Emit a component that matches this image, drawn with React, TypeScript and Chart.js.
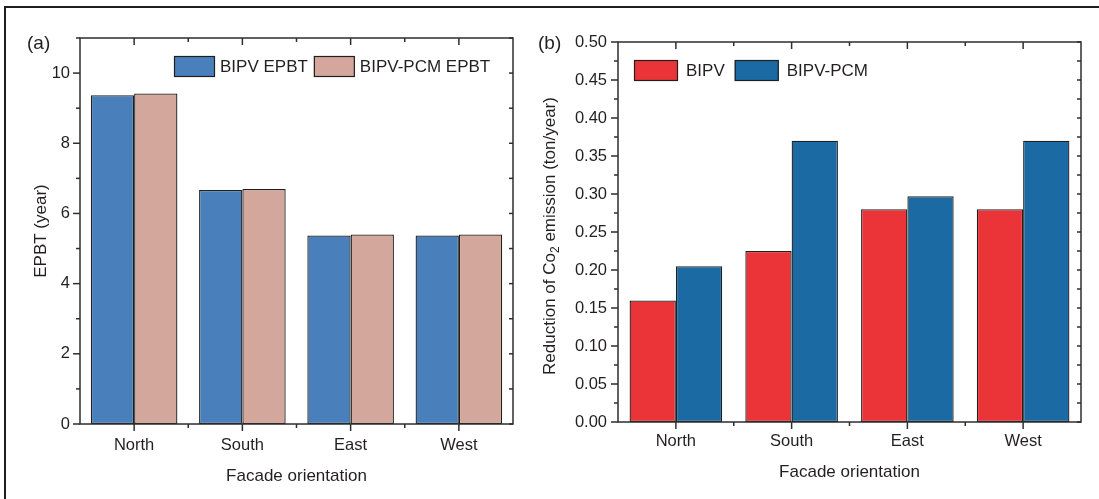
import { useEffect, useRef } from "react";
import { Chart, registerables } from "chart.js";

Chart.register(...registerables);

// Categories shared by both panels
const orientations = ["North", "South", "East", "West"];

// (a) Energy payback time, years
const epbtBipv = [9.37, 6.67, 5.37, 5.37];
const epbtBipvPcm = [9.42, 6.7, 5.4, 5.4];

// (b) Reduction of CO2 emission, ton/year
const co2Bipv = [0.16, 0.225, 0.28, 0.28];
const co2BipvPcm = [0.205, 0.37, 0.297, 0.37];

const FONT = "'Liberation Sans', Arial, Helvetica, sans-serif";
const INK = "#231f20";
const FRAME = "#2e2e2e";
const BAR_EDGE = "#1f1f1f";

type TitlePart = { t: string; sub?: boolean };

// Draws the Origin-style box frame, inner/outer ticks, legend, titles and panel tag.
const originFrame = {
  id: "originFrame",
  afterDatasetsDraw(chart: any, _args: any, opts: any) {
    const { ctx, chartArea: a, scales } = chart;
    const xs = scales.x;
    const ys = scales.y;
    const line = (x1: number, y1: number, x2: number, y2: number) => {
      ctx.beginPath();
      ctx.moveTo(x1, y1);
      ctx.lineTo(x2, y2);
      ctx.stroke();
    };
    ctx.save();
    ctx.strokeStyle = FRAME;
    ctx.lineWidth = 1.5;
    ctx.strokeRect(a.left, a.top, a.right - a.left, a.bottom - a.top);

    // y ticks: majors and halfway minors, outward on the left, inward on the right
    const step = opts.yStep;
    const half = step / 2;
    const count = Math.round((ys.max - ys.min) / half);
    for (let k = 0; k <= count; k++) {
      const v = ys.min + k * half;
      const py = ys.getPixelForValue(v);
      const major = k % 2 === 0;
      line(a.left - (major ? 7 : 4), py, a.left, py);
      line(a.right, py, a.right - 4, py);
    }

    // x ticks: majors at categories, minors between them
    const n = chart.data.labels.length;
    for (let i = 0; i < n; i++) {
      const px = xs.getPixelForValue(i);
      line(px, a.bottom, px, a.bottom + 7);
      line(px, a.top, px, a.top + 7);
      if (i < n - 1) {
        const mx = (px + xs.getPixelForValue(i + 1)) / 2;
        line(mx, a.bottom, mx, a.bottom + 4);
        line(mx, a.top, mx, a.top + 4);
      }
    }

    // legend
    const lg = opts.legend;
    ctx.font = `17px ${FONT}`;
    ctx.textBaseline = "middle";
    ctx.textAlign = "left";
    let lx = lg.x;
    chart.data.datasets.forEach((ds: any) => {
      ctx.fillStyle = ds.backgroundColor;
      ctx.fillRect(lx, lg.y, lg.w, lg.h);
      ctx.lineWidth = 1.2;
      ctx.strokeStyle = BAR_EDGE;
      ctx.strokeRect(lx + 0.5, lg.y + 0.5, lg.w - 1, lg.h - 1);
      lx += lg.w + lg.textGap;
      ctx.fillStyle = INK;
      ctx.fillText(ds.label, lx, lg.y + lg.h / 2 + 1);
      lx += ctx.measureText(ds.label).width + lg.itemGap;
    });

    // panel tag
    ctx.font = `19px ${FONT}`;
    ctx.fillStyle = INK;
    ctx.fillText(opts.tag.text, opts.tag.x, opts.tag.y);

    // x-axis title
    ctx.font = `17px ${FONT}`;
    ctx.textAlign = "center";
    ctx.fillText(opts.xTitle.text, (a.left + a.right) / 2, opts.xTitle.y);

    // y-axis title, rotated, with optional subscript parts
    const parts: TitlePart[] = opts.yTitle.parts;
    const main = `17px ${FONT}`;
    const small = `12px ${FONT}`;
    let total = 0;
    parts.forEach((p) => {
      ctx.font = p.sub ? small : main;
      total += ctx.measureText(p.t).width;
    });
    ctx.translate(opts.yTitle.x, (a.top + a.bottom) / 2 + (opts.yTitle.dy || 0));
    ctx.rotate(-Math.PI / 2);
    ctx.textAlign = "left";
    ctx.textBaseline = "alphabetic";
    let tx = -total / 2;
    parts.forEach((p) => {
      ctx.font = p.sub ? small : main;
      ctx.fillText(p.t, tx, p.sub ? 10 : 6);
      tx += ctx.measureText(p.t).width;
    });
    ctx.restore();
  },
};

type PanelProps = {
  width: number;
  height: number;
  left: number;
  config: any;
};

function Panel({ width, height, left, config }: PanelProps) {
  const ref = useRef<HTMLCanvasElement>(null);
  useEffect(() => {
    if (!ref.current) return;
    const chart = new Chart(ref.current, config);
    return () => chart.destroy();
  }, [config]);
  return (
    <canvas
      ref={ref}
      width={width}
      height={height}
      style={{ position: "absolute", left, top: 0, width, height }}
    />
  );
}

function barConfig(opts: {
  datasets: any[];
  yMax: number;
  yStep: number;
  decimals: number;
  pad: { top: number; right: number };
  yWidth: number;
  xHeight: number;
  tickPadY: number;
  tickPadX: number;
  frame: any;
}) {
  return {
    type: "bar",
    data: { labels: orientations, datasets: opts.datasets },
    plugins: [originFrame],
    options: {
      responsive: false,
      animation: false,
      events: [],
      layout: {
        autoPadding: false,
        padding: { left: 0, top: opts.pad.top, right: opts.pad.right, bottom: 0 },
      },
      datasets: {
        bar: {
          categoryPercentage: 0.8,
          barPercentage: 1.0,
          borderSkipped: false,
          borderWidth: 1.3,
          borderColor: BAR_EDGE,
        },
      },
      plugins: {
        legend: { display: false },
        tooltip: { enabled: false },
        originFrame: opts.frame,
      },
      scales: {
        x: {
          type: "category",
          offset: true,
          grid: { display: false, drawTicks: false },
          border: { display: false },
          ticks: {
            color: INK,
            font: { family: FONT, size: 16.5 },
            padding: opts.tickPadX,
            maxRotation: 0,
          },
          afterFit: (s: any) => {
            s.height = opts.xHeight;
          },
        },
        y: {
          min: 0,
          max: opts.yMax,
          grid: { display: false, drawTicks: false },
          border: { display: false },
          ticks: {
            stepSize: opts.yStep,
            includeBounds: false,
            color: INK,
            font: { family: FONT, size: 16.5 },
            padding: opts.tickPadY,
            callback: (v: any) => Number(v).toFixed(opts.decimals),
          },
          afterFit: (s: any) => {
            s.width = opts.yWidth;
          },
        },
      },
    },
  };
}

const H = 499;

const configA = barConfig({
  datasets: [
    { label: "BIPV EPBT", data: epbtBipv, backgroundColor: "#4980bb" },
    { label: "BIPV-PCM EPBT", data: epbtBipvPcm, backgroundColor: "#d3a79b" },
  ],
  yMax: 11,
  yStep: 2,
  decimals: 0,
  pad: { top: 38, right: 17 },
  yWidth: 80,
  xHeight: H - 424,
  tickPadY: 10,
  tickPadX: 12,
  frame: {
    yStep: 2,
    legend: { x: 174, y: 56, w: 41, h: 21, textGap: 5, itemGap: 6 },
    tag: { text: "(a)", x: 27, y: 44 },
    xTitle: { text: "Facade orientation", y: 476 },
    yTitle: { x: 40, parts: [{ t: "EPBT (year)" }] },
  },
});

const configB = barConfig({
  datasets: [
    { label: "BIPV", data: co2Bipv, backgroundColor: "#eb3438" },
    { label: "BIPV-PCM", data: co2BipvPcm, backgroundColor: "#1b6aa3" },
  ],
  yMax: 0.5,
  yStep: 0.05,
  decimals: 2,
  pad: { top: 42, right: 18 },
  yWidth: 88,
  xHeight: H - 422,
  tickPadY: 11,
  tickPadX: 10,
  frame: {
    yStep: 0.05,
    legend: { x: 104, y: 60, w: 44, h: 21, textGap: 8, itemGap: 10 },
    tag: { text: "(b)", x: 8, y: 44 },
    xTitle: { text: "Facade orientation", y: 472 },
    yTitle: {
      x: 19,
      dy: 4,
      parts: [
        { t: "Reduction of Co" },
        { t: "2", sub: true },
        { t: " emission (ton/year)" },
      ],
    },
  },
});

export default function App() {
  return (
    <div
      style={{
        position: "absolute",
        left: 0,
        top: 0,
        width: 1099,
        height: H,
        background: "#ffffff",
        overflow: "hidden",
      }}
    >
      <Panel width={530} height={H} left={0} config={configA} />
      <Panel width={569} height={H} left={530} config={configB} />
      <div
        style={{
          position: "absolute",
          left: 4,
          top: 6,
          width: 1099,
          height: H,
          borderTop: "2px solid #1e1e1e",
          borderLeft: "2px solid #1e1e1e",
          pointerEvents: "none",
        }}
      />
    </div>
  );
}
